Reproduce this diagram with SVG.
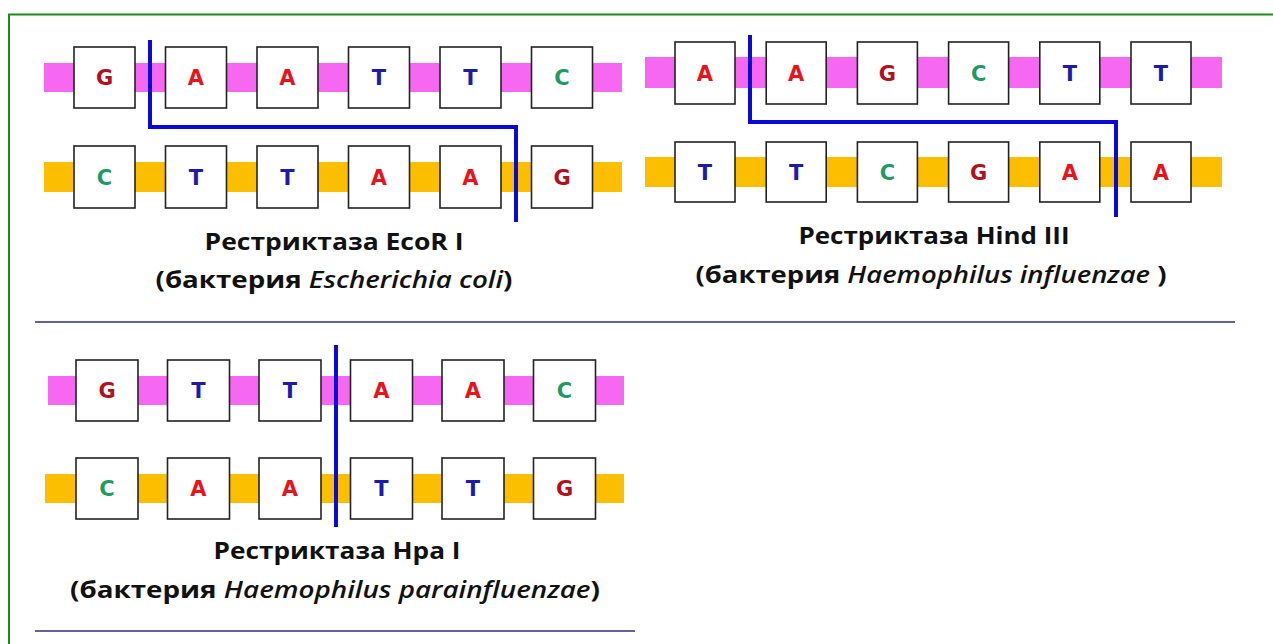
<svg xmlns="http://www.w3.org/2000/svg" width="1273" height="644" viewBox="0 0 1273 644">
<style>
.pink{fill:#f768f2}
.gold{fill:#fcbf00}
.box{fill:#ffffff;stroke:#222;stroke-width:1.6}
.b{font-family:"DejaVu Sans","Liberation Sans",sans-serif;font-weight:700;font-size:21px;text-anchor:middle}
.G{fill:#b3101e}.A{fill:#e8141c}.T{fill:#1c1ca8}.C{fill:#1e9a62}
.cut{fill:none;stroke:#0a0ad8;stroke-width:4;stroke-linejoin:miter}
.lbl{font-family:"Open Sans","Liberation Sans",sans-serif;font-weight:700;font-size:24px;fill:#111;text-anchor:middle}
.it{font-style:italic;font-weight:600}
.sep{stroke:#2e2e7e;stroke-width:1.6}
</style>
<rect width="1273" height="644" fill="#ffffff"/>
<path d="M9,644 V14.5 H1273" fill="none" stroke="#1a8a1a" stroke-width="2"/>

<!-- Panel 1: EcoR I -->
<g id="p1-strands">
<rect class="pink" x="44" y="63" width="578" height="29"/>
<rect class="gold" x="44" y="162" width="578" height="30"/>
</g>
<g id="p1-t1"><rect class="box" x="74" y="47" width="61" height="61"/><text class="b G" x="104.5" y="85">G</text></g>
<g id="p1-t2"><rect class="box" x="165.5" y="47" width="61" height="61"/><text class="b A" x="196" y="85">A</text></g>
<g id="p1-t3"><rect class="box" x="257" y="47" width="61" height="61"/><text class="b A" x="287.5" y="85">A</text></g>
<g id="p1-t4"><rect class="box" x="348.5" y="47" width="61" height="61"/><text class="b T" x="379" y="85">T</text></g>
<g id="p1-t5"><rect class="box" x="440" y="47" width="61" height="61"/><text class="b T" x="470.5" y="85">T</text></g>
<g id="p1-t6"><rect class="box" x="531.5" y="47" width="61" height="61"/><text class="b C" x="562" y="85">C</text></g>
<g id="p1-b1"><rect class="box" x="74" y="146" width="61" height="62"/><text class="b C" x="104.5" y="184.5">C</text></g>
<g id="p1-b2"><rect class="box" x="165.5" y="146" width="61" height="62"/><text class="b T" x="196" y="184.5">T</text></g>
<g id="p1-b3"><rect class="box" x="257" y="146" width="61" height="62"/><text class="b T" x="287.5" y="184.5">T</text></g>
<g id="p1-b4"><rect class="box" x="348.5" y="146" width="61" height="62"/><text class="b A" x="379" y="184.5">A</text></g>
<g id="p1-b5"><rect class="box" x="440" y="146" width="61" height="62"/><text class="b A" x="470.5" y="184.5">A</text></g>
<g id="p1-b6"><rect class="box" x="531.5" y="146" width="61" height="62"/><text class="b G" x="562" y="184.5">G</text></g>
<g id="p1-label">
<text class="lbl" x="334" y="250" textLength="259" lengthAdjust="spacingAndGlyphs">Рестриктаза EcoR I</text>
<text class="lbl" x="334" y="288" textLength="357" lengthAdjust="spacingAndGlyphs">(бактерия <tspan class="it">Escherichia coli</tspan>)</text>
</g>

<!-- Panel 2: Hind III -->
<g id="p2-strands">
<rect class="pink" x="645" y="57" width="577" height="31"/>
<rect class="gold" x="645" y="157" width="577" height="30"/>
</g>
<g id="p2-t1"><rect class="box" x="675" y="42" width="60" height="62"/><text class="b A" x="705" y="80.5">A</text></g>
<g id="p2-t2"><rect class="box" x="766.2" y="42" width="60" height="62"/><text class="b A" x="796.2" y="80.5">A</text></g>
<g id="p2-t3"><rect class="box" x="857.4" y="42" width="60" height="62"/><text class="b G" x="887.4" y="80.5">G</text></g>
<g id="p2-t4"><rect class="box" x="948.6" y="42" width="60" height="62"/><text class="b C" x="978.6" y="80.5">C</text></g>
<g id="p2-t5"><rect class="box" x="1039.8" y="42" width="60" height="62"/><text class="b T" x="1069.8" y="80.5">T</text></g>
<g id="p2-t6"><rect class="box" x="1131" y="42" width="60" height="62"/><text class="b T" x="1161" y="80.5">T</text></g>
<g id="p2-b1"><rect class="box" x="675" y="142" width="60" height="60"/><text class="b T" x="705" y="179.5">T</text></g>
<g id="p2-b2"><rect class="box" x="766.2" y="142" width="60" height="60"/><text class="b T" x="796.2" y="179.5">T</text></g>
<g id="p2-b3"><rect class="box" x="857.4" y="142" width="60" height="60"/><text class="b C" x="887.4" y="179.5">C</text></g>
<g id="p2-b4"><rect class="box" x="948.6" y="142" width="60" height="60"/><text class="b G" x="978.6" y="179.5">G</text></g>
<g id="p2-b5"><rect class="box" x="1039.8" y="142" width="60" height="60"/><text class="b A" x="1069.8" y="179.5">A</text></g>
<g id="p2-b6"><rect class="box" x="1131" y="142" width="60" height="60"/><text class="b A" x="1161" y="179.5">A</text></g>
<g id="p2-label">
<text class="lbl" x="934" y="244" textLength="271" lengthAdjust="spacingAndGlyphs">Рестриктаза Hind III</text>
<text class="lbl" x="931" y="283" textLength="471" lengthAdjust="spacingAndGlyphs">(бактерия <tspan class="it">Haemophilus influenzae</tspan> )</text>
</g>

<!-- Panel 3: Hpa I -->
<g id="p3-strands">
<rect class="pink" x="48" y="376" width="576" height="29"/>
<rect class="gold" x="45" y="474" width="579" height="29"/>
</g>
<g id="p3-t1"><rect class="box" x="76" y="360" width="62" height="61"/><text class="b G" x="107" y="398">G</text></g>
<g id="p3-t2"><rect class="box" x="167.5" y="360" width="62" height="61"/><text class="b T" x="198.5" y="398">T</text></g>
<g id="p3-t3"><rect class="box" x="259" y="360" width="62" height="61"/><text class="b T" x="290" y="398">T</text></g>
<g id="p3-t4"><rect class="box" x="350.5" y="360" width="62" height="61"/><text class="b A" x="381.5" y="398">A</text></g>
<g id="p3-t5"><rect class="box" x="442" y="360" width="62" height="61"/><text class="b A" x="473" y="398">A</text></g>
<g id="p3-t6"><rect class="box" x="533.5" y="360" width="62" height="61"/><text class="b C" x="564.5" y="398">C</text></g>
<g id="p3-b1"><rect class="box" x="76" y="458" width="62" height="61"/><text class="b C" x="107" y="496">C</text></g>
<g id="p3-b2"><rect class="box" x="167.5" y="458" width="62" height="61"/><text class="b A" x="198.5" y="496">A</text></g>
<g id="p3-b3"><rect class="box" x="259" y="458" width="62" height="61"/><text class="b A" x="290" y="496">A</text></g>
<g id="p3-b4"><rect class="box" x="350.5" y="458" width="62" height="61"/><text class="b T" x="381.5" y="496">T</text></g>
<g id="p3-b5"><rect class="box" x="442" y="458" width="62" height="61"/><text class="b T" x="473" y="496">T</text></g>
<g id="p3-b6"><rect class="box" x="533.5" y="458" width="62" height="61"/><text class="b G" x="564.5" y="496">G</text></g>
<g id="p3-label">
<text class="lbl" x="337" y="559" textLength="247" lengthAdjust="spacingAndGlyphs">Рестриктаза Hpa I</text>
<text class="lbl" x="335" y="598" textLength="530" lengthAdjust="spacingAndGlyphs">(бактерия <tspan class="it">Haemophilus parainfluenzae</tspan>)</text>
</g>

<g id="connectors">
<polyline class="cut" points="150,40 150,127 516,127 516,222"/>
<polyline class="cut" points="750,35 750,122 1116,122 1116,217"/>
<line class="cut" x1="336" y1="345" x2="336" y2="527"/>
</g>

<g id="separators">
<line class="sep" x1="35" y1="322" x2="1235" y2="322"/>
<line class="sep" x1="35" y1="631" x2="635" y2="631"/>
</g>
</svg>
